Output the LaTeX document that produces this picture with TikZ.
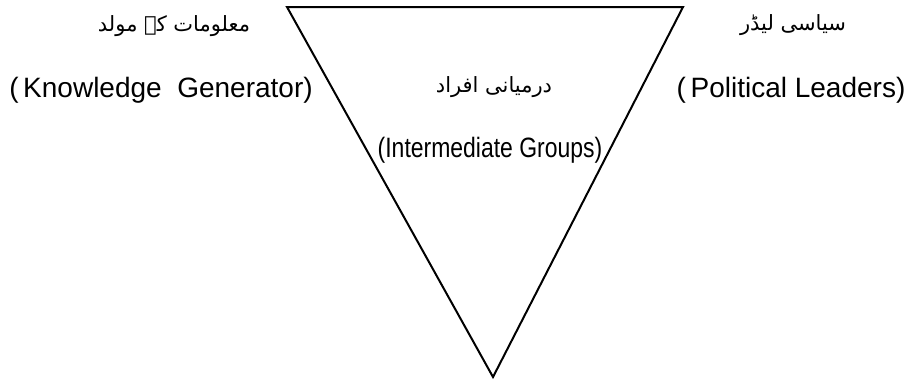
\documentclass[tikz,border=0pt]{standalone}
\usepackage{fontspec}
\setmainfont{Liberation Sans}
\newfontfamily\urdufont[Script=Arabic]{DejaVu Sans}
\newfontfamily\narrowfont[FakeStretch=0.82]{Liberation Sans}
\TeXXeTstate=1

\tikzset{
  urdu/.style={font=\urdufont\fontsize{21}{25}\selectfont, inner sep=0pt},
  engl/.style={font=\fontsize{28}{32}\selectfont, inner sep=0pt, anchor=base},
  side/.style={line width=2pt, line join=miter}
}

\begin{document}
\begin{tikzpicture}[x=1pt, y=-1pt]
\useasboundingbox (0,0) rectangle (915,381);

% --- corners of the inverted triangle ---
\coordinate (tl) at (287,7);
\coordinate (tr) at (683,7);
\coordinate (bot) at (493,377);

\draw[side] (tl) -- (tr) -- (bot) -- cycle;

% --- left side: knowledge generator ---
\node[urdu] (genur) at (174,26) {\beginR معلومات کے مولد\endR};
\node[engl] (genen) at (161,97) {(\,Knowledge\ \ Generator)};

% --- right side: political leaders ---
\node[urdu] (leadur) at (793,25) {\beginR سیاسی لیڈر\endR};
\node[engl] (leaden) at (791,97) {(\,Political Leaders)};

% --- inside the triangle: intermediate groups ---
\node[urdu] (midur) at (494,87) {\beginR درمیانی افراد\endR};
\node[engl, font=\narrowfont\fontsize{28}{32}\selectfont] (miden) at (490,157) {(Intermediate Groups)};

\end{tikzpicture}
\end{document}
